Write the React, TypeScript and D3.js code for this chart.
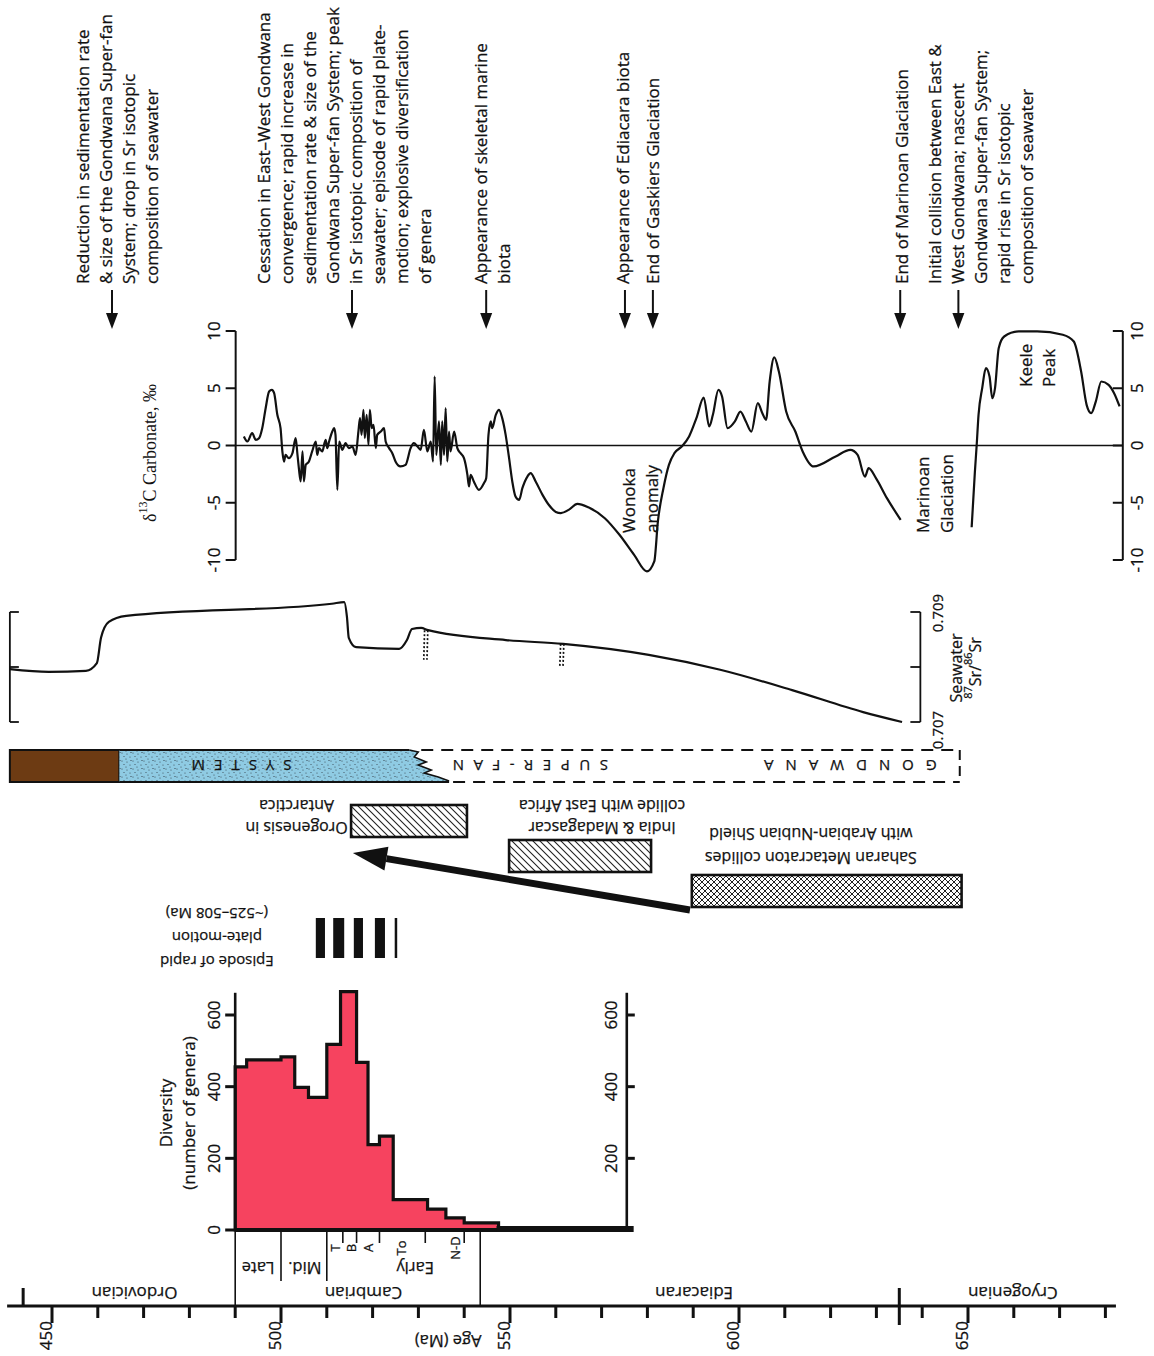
import React, { useEffect, useRef } from 'react';
import * as d3 from 'd3';

const W = 1154;
const H = 1356;
const SANS = "'Open Sans', 'DejaVu Sans', sans-serif";
const SERIF = "'Liberation Serif', 'DejaVu Serif', serif";
const INK = '#111';

// ---- age axis (Ma) ----
const AGE_RANGE = [440.2, 682.3];
const AGE_TICKS = d3.range(450, 690, 10);
const AGE_LABELS = [450, 500, 550, 600, 650];
const PERIOD_BOUNDS = [443.7, 635];
const PERIOD_NAMES = ['Ordovician', 'Cambrian', 'Ediacaran', 'Cryogenian'];
const PERIOD_MIDS = [468, 518, 590.2, 659.8];

// ---- Cambrian subdivisions ----
const CAMBRIAN_BOUNDS = [490, 543.5];
const EPOCH_BOUNDS = [500, 510];
const EPOCH_NAMES = ['Late', 'Mid.', 'Early'];
const EPOCH_MIDS = [495, 505.2, 529.3];
const STAGE_BOUNDS = [513.5, 516.5, 521.5, 531.5, 540];
const STAGE_NAMES = ['T', 'B', 'A', 'To', 'N-D'];
const STAGE_MIDS = [511.8, 515.2, 519.1, 526.3, 538];

// ---- diversity (number of genera) ----
const DIV_EDGES = [490, 492.5, 500, 503, 506, 510, 513, 516.5, 519, 521.5, 524.5, 532, 536, 540, 547.5];
const DIV_VALUES = [455, 475, 483, 398, 370, 518, 665, 468, 238, 262, 85, 58, 34, 20];
const DIV_TAIL_END = 577;
const DIV_TICKS_LEFT = [0, 200, 400, 600];
const DIV_TICKS_RIGHT = [200, 400, 600];
const DIV_RIGHT_AXIS_AGE = 575.5;

// ---- episode of rapid plate motion ----
const EPISODE_BARS = [[507.6, 509.6], [511.4, 513.8], [515.9, 517.9], [520.5, 522.7]];
const EPISODE_THIN = 525.1;

// ---- tectonic events ----
const TECTONIC_FROM = [515.3, 549.8, 589.7];
const TECTONIC_TO = [540.6, 580.8, 648.6];
const TECTONIC_FILL = ['hatch', 'hatch', 'cross'];
const TECTONIC_LABELS = [
  ['Orogenesis in', 'Antarctica'],
  ['India & Madagascar', 'collide with East Africa'],
  ['Saharan Metacraton collides', 'with Arabian-Nubian Shield'],
];
const TECTONIC_LABEL_AGE = [503.4, 570.1, 615.7];
const BIG_ARROW = [589.3, 515.7];

// ---- Gondwana Super-fan System ----
const FAN_START = 440.8;
const FAN_BROWN_END = 464.7;
const FAN_BLUE_END = [528, 536.7];
const FAN_DASH_END = 648.2;

// ---- seawater 87Sr/86Sr ----
const SR_AGE = [440.8, 449.3, 457.4, 459.8, 460.7, 462.4, 466.2, 511.1, 513.8, 514.4, 514.8, 516.4, 525.8, 527.5, 528.6, 530.6, 532.1, 549.1, 561.6, 580.3, 595.9, 611.6, 627.1, 635.6];
const SR_VAL = [0.70796, 0.70791, 0.70793, 0.70807, 0.70853, 0.70882, 0.70893, 0.70915, 0.70918, 0.70891, 0.70853, 0.70836, 0.70833, 0.70849, 0.70869, 0.70871, 0.70867, 0.70849, 0.70842, 0.70822, 0.70795, 0.70758, 0.70718, 0.70700];
const SR_TICKS = [0.707, 0.708, 0.709];
const SR_BRACKET_R = 639.6;
const SR_DOTTED_AGE = [531.7, 561.4];
const SR_DOTTED_TOP = [0.70867, 0.70842];
const SR_DOTTED_BOTTOM = [0.70813, 0.70802];

// ---- d13C carbonate ----
const C13_AGE_A = [491.9, 492.65, 493.7, 494.5, 495.2, 495.9, 496.65, 497.4, 498.0, 498.5,
  499.2, 499.9, 500.3, 500.65, 501.0, 501.7, 502.5, 503.2, 503.6, 503.9,
  504.3, 504.7, 505.0, 505.4, 506.1, 506.8, 507.6, 507.9, 508.3, 509.0,
  509.75, 510.1, 510.5, 511.2, 511.6, 511.9, 512.3, 512.7, 513.4, 514.1,
  514.8, 515.6, 516.3, 516.9, 517.25, 517.6, 518.0, 518.3, 518.7, 519.1,
  519.4, 519.8, 520.2, 520.7, 521.0, 521.8, 522.5, 522.85, 523.6, 524.3,
  525.0, 526.1, 527.2, 528.3, 529.0, 529.8, 530.5, 531.2, 531.95, 532.7,
  533.2, 533.55, 533.9, 534.5, 534.9, 535.2, 535.6, 535.95, 536.3, 536.7,
  537.0, 537.8, 538.5, 539.2, 539.95, 540.7, 541.05, 541.4, 542.1, 543.2,
  544.3, 544.8, 545.3, 545.8, 546.1, 546.9, 547.6, 548.3, 549.05, 549.8,
  550.5, 551.2, 552.0, 552.7, 553.8, 554.5, 555.6, 557.1, 558.5, 560.0,
  561.1, 562.9, 564.7, 567.1, 570.7, 573.9, 577.1, 579.9, 581.5, 582.3,
  583.5, 584.7, 585.9, 587.5, 589.1, 590.7, 592.3, 593.5, 594.3, 595.5,
  596.3, 597.5, 599.1, 600.3, 601.5, 602.7, 604.1, 605.1, 605.9, 606.7,
  607.7, 608.7, 610.3, 612.3, 613.9, 616.3, 621.1, 624.3, 625.9, 627.5,
  628.3, 629.9, 632.3, 635.3];
const C13_VAL_A = [0.79, 0.35, 1.08, 0.49, 0.64, 1.51, 3.26, 4.72, 4.86, 4.57,
  2.68, 1.51, -0.52, -1.40, -0.82, -1.11, -0.67, 0.64, -0.82, -1.98,
  -3.14, -0.52, -3.14, -1.69, -1.40, -0.52, 0.35, -0.82, -0.23, -0.52,
  0.49, -0.23, 0.35, 1.22, 1.51, 0.93, -3.87, 0.35, -0.38, 0.20,
  -0.23, -0.09, -0.82, 1.22, 2.39, 0.93, 3.12, 0.64, 2.68, 0.06,
  3.12, 1.51, 1.80, -0.23, 0.93, 1.22, 1.51, 0.35, -0.23, -0.67,
  -1.40, -1.83, -1.69, -0.23, 0.20, -0.09, -0.38, 1.37, -0.52, 0.35,
  -1.40, 6.03, -0.82, 2.10, -1.69, 2.10, -0.82, 3.26, -1.40, 1.22,
  -0.52, 1.22, -0.23, -0.67, -1.11, -2.56, -3.58, -2.56, -3.14, -3.87,
  -3.29, -2.85, 0.93, 2.10, 1.51, 2.68, 3.12, 2.39, 0.93, -1.11,
  -3.14, -4.45, -4.75, -3.73, -2.71, -2.42, -3.14, -4.31, -5.2, -5.8,
  -5.9, -5.6, -5.1, -5.4, -6.35, -7.80, -9.55, -11.0, -10.13, -6.61,
  -3.73, -1.69, -0.67, -0.09, 0.79, 2.39, 4.19, 1.66, 2.68, 4.86,
  4.28, 1.51, 2.10, 2.96, 2.10, 1.22, 3.70, 2.82, 2.24, 5.59,
  7.69, 6.46, 2.97, 1.22, -0.52, -1.83, -0.96, -0.38, -0.82, -2.71,
  -1.98, -2.85, -4.60, -6.49];
const C13_AGE_B = [650.8, 651.5, 651.9, 652.3, 653.1, 653.9, 654.7, 655.3, 655.9, 656.7, 657.9, 661.1, 665.1, 670.7, 673.1, 674.7, 675.9, 676.9, 677.9, 679.1, 680.7, 681.9, 683.1];
const C13_VAL_B = [-7.13, -2.33, 0.06, 2.68, 5.01, 6.75, 6.03, 4.13, 5.01, 8.50, 9.52, 9.96, 9.96, 9.67, 9.08, 6.46, 3.55, 2.82, 3.84, 5.59, 5.30, 4.57, 3.41];
const C13_TICKS = [-10, -5, 0, 5, 10];
const C13_AXIS_AGES = [490.1, 683.8];

// ---- events at top ----
const EVENT_AGES = [463.1, 515.5, 544.8, 575.1, 581.2, 635.2, 647.9];
const EVENT_TEXT = [
  ['Reduction in sedimentation rate', '& size of the Gondwana Super-fan', 'System; drop in Sr isotopic', 'composition of seawater'],
  ['Cessation in East\u2013West Gondwana', 'convergence; rapid increase in', 'sedimentation rate & size of the', 'Gondwana Super-fan System; peak', 'in Sr isotopic composition of', 'seawater; episode of rapid plate-', 'motion; explosive diversification', 'of genera'],
  ['Appearance of skeletal marine', 'biota'],
  ['Appearance of Ediacara biota'],
  ['End of Gaskiers Glaciation'],
  ['End of Marinoan Glaciation'],
  ['Initial collision between East &', 'West Gondwana; nascent', 'Gondwana Super-fan System;', 'rapid rise in Sr isotopic', 'composition of seawater'],
];
const EVENT_ANCHOR = [1, 4, 0, 0, 0, 0, 1];
const EVENT_DX = [-6, 4, -6, -2, 0, 1, -1];

export default function App() {
  const svgRef = useRef<SVGSVGElement | null>(null);

  useEffect(() => {
    const svg = d3.select(svgRef.current);
    svg.selectAll('*').remove();

    const x = d3.scaleLinear().domain([450, 650]).range([52, 968]);
    const yDiv = d3.scaleLinear().domain([0, 600]).range([1230, 1015]);
    const yC = d3.scaleLinear().domain([-10, 10]).range([560, 331]);
    const ySr = d3.scaleLinear().domain([0.707, 0.709]).range([722, 612]);

    // all labels: rotated text centred on its own line
    const drawText = (g: any, str: string, tx: number, ty: number, rot: number, size: number, anchor = 'middle', family = SANS) =>
      g.append('text')
        .attr('transform', `translate(${tx},${ty}) rotate(${rot})`)
        .attr('text-anchor', anchor)
        .attr('dominant-baseline', 'central')
        .style('font-family', family)
        .style('font-size', `${size}px`)
        .attr('fill', INK)
        .attr('stroke', INK)
        .attr('stroke-width', 0.25)
        .text(str);

    const seg = (x1: number, y1: number, x2: number, y2: number, w = 2, extra?: (s: any) => void) => {
      const l = svg.append('line')
        .attr('x1', x1).attr('y1', y1).attr('x2', x2).attr('y2', y2)
        .attr('stroke', INK).attr('stroke-width', w);
      if (extra) extra(l);
      return l;
    };

    // patterns
    const defs = svg.append('defs');
    const hatch = defs.append('pattern').attr('id', 'hatch')
      .attr('patternUnits', 'userSpaceOnUse').attr('width', 7).attr('height', 7);
    hatch.append('path').attr('d', 'M-1,-1 L8,8 M-1,6 L1,8 M6,-1 L8,1')
      .attr('stroke', '#222').attr('stroke-width', 1.1);
    const cross = defs.append('pattern').attr('id', 'cross')
      .attr('patternUnits', 'userSpaceOnUse').attr('width', 6).attr('height', 6);
    cross.append('rect').attr('width', 6).attr('height', 6).attr('fill', '#fff');
    cross.append('path').attr('d', 'M-1,-1 L7,7 M-1,5 L1,7 M5,-1 L7,1 M-1,7 L7,-1 M-1,1 L1,-1 M5,7 L7,5')
      .attr('stroke', '#222').attr('stroke-width', 1);
    const stip = defs.append('pattern').attr('id', 'stip')
      .attr('patternUnits', 'userSpaceOnUse').attr('width', 11).attr('height', 8);
    [[1, 1], [6, 2], [3, 4.5], [9, 5], [5, 7], [10, 0.5]].forEach(([cx, cy]) =>
      stip.append('circle').attr('cx', cx).attr('cy', cy).attr('r', 0.6).attr('fill', '#3a4a55'));

    // ---------- age axis ----------
    const axisY = 1306;
    seg(x(AGE_RANGE[0]), axisY, x(AGE_RANGE[1]), axisY, 3.2);
    AGE_TICKS.forEach(t => {
      const major = AGE_LABELS.includes(t);
      seg(x(t), axisY, x(t), axisY + (major ? 17 : 12), 3);
    });
    AGE_LABELS.forEach(t => drawText(svg, String(t), x(t) - 7, axisY + 15, -90, 17, 'end'));
    seg(x(PERIOD_BOUNDS[0]), axisY - 18, x(PERIOD_BOUNDS[0]), axisY, 3);
    seg(x(PERIOD_BOUNDS[1]), axisY - 18, x(PERIOD_BOUNDS[1]), axisY + 19, 3);
    PERIOD_NAMES.forEach((n, i) => drawText(svg, n, x(PERIOD_MIDS[i]), 1293, 180, 17));
    drawText(svg, 'Age (Ma)', x(536.5), 1341, 180, 16.5);

    // Cambrian subdivision box
    const baseY = yDiv(0);
    CAMBRIAN_BOUNDS.forEach(a => seg(x(a), baseY, x(a), axisY, 1.6));
    EPOCH_BOUNDS.forEach(a => seg(x(a), baseY, x(a), 1281, 1.6));
    STAGE_BOUNDS.forEach(a => seg(x(a), baseY, x(a), 1243, 1.6));
    EPOCH_NAMES.forEach((n, i) => drawText(svg, n, x(EPOCH_MIDS[i]), 1268, 180, 16.5));
    STAGE_NAMES.forEach((n, i) => drawText(svg, n, x(STAGE_MIDS[i]), 1248, -90, 13));

    // ---------- diversity histogram ----------
    const p = d3.path();
    p.moveTo(x(DIV_EDGES[0]), yDiv(0));
    DIV_VALUES.forEach((v, i) => {
      p.lineTo(x(DIV_EDGES[i]), yDiv(v));
      p.lineTo(x(DIV_EDGES[i + 1]), yDiv(v));
    });
    p.lineTo(x(DIV_EDGES[DIV_EDGES.length - 1]), yDiv(0));
    p.closePath();
    svg.append('path').attr('d', p.toString())
      .attr('fill', '#f6435f').attr('stroke', INK).attr('stroke-width', 3.2)
      .attr('stroke-linejoin', 'miter');
    seg(x(DIV_EDGES[0]), yDiv(0), x(DIV_EDGES[DIV_EDGES.length - 1]), yDiv(0), 4);
    seg(x(DIV_EDGES[DIV_EDGES.length - 1]) - 2, yDiv(0) - 1, x(DIV_TAIL_END), yDiv(0) - 1, 6);

    const lAx = x(DIV_EDGES[0]);
    seg(lAx, yDiv(0), lAx, yDiv(662), 2.6);
    DIV_TICKS_LEFT.forEach(t => {
      seg(lAx - 10, yDiv(t), lAx, yDiv(t), 3);
      drawText(svg, String(t), lAx - 22, yDiv(t), -90, 17);
    });
    const rAx = x(DIV_RIGHT_AXIS_AGE);
    seg(rAx, yDiv(0), rAx, yDiv(662), 2.6);
    DIV_TICKS_RIGHT.forEach(t => {
      seg(rAx, yDiv(t), rAx + 8, yDiv(t), 3);
      drawText(svg, String(t), rAx - 16, yDiv(t), -90, 17);
    });
    drawText(svg, 'Diversity', 165, 1113, -90, 17);
    drawText(svg, '(number of genera)', 188, 1113, -90, 17);

    // ---------- episode of rapid plate motion ----------
    EPISODE_BARS.forEach(([a, b]) =>
      svg.append('rect').attr('x', x(a)).attr('y', 918).attr('width', x(b) - x(a)).attr('height', 40).attr('fill', INK));
    seg(x(EPISODE_THIN), 918, x(EPISODE_THIN), 958, 2.5);
    ['Episode of rapid', 'plate-motion', '(~525\u2013508 Ma)'].forEach((s, i) =>
      drawText(svg, s, x(486), 962 - i * 24, 180, 15));

    // ---------- tectonic boxes ----------
    const rowTop = [805, 840, 875];
    TECTONIC_FROM.forEach((a, i) => {
      svg.append('rect').attr('x', x(a)).attr('y', rowTop[i])
        .attr('width', x(TECTONIC_TO[i]) - x(a)).attr('height', 32)
        .attr('fill', `url(#${TECTONIC_FILL[i]})`).attr('stroke', INK).attr('stroke-width', 2.6);
    });
    const labelY = [[828, 806], [828, 806], [858, 834]];
    TECTONIC_LABELS.forEach((lines, i) =>
      lines.forEach((s, j) => drawText(svg, s, x(TECTONIC_LABEL_AGE[i]), labelY[i][j], 180, 16)));

    // big arrow
    const [tx, ty] = [x(BIG_ARROW[0]), 910];
    const [hx, hy] = [x(BIG_ARROW[1]), 853];
    const ang = Math.atan2(hy - ty, hx - tx);
    const hl = 34, hw = 12;
    const bx = hx - hl * Math.cos(ang), by = hy - hl * Math.sin(ang);
    seg(tx, ty, bx, by, 7);
    svg.append('path')
      .attr('d', `M${hx},${hy} L${bx + hw * Math.sin(ang)},${by - hw * Math.cos(ang)} L${bx - hw * Math.sin(ang)},${by + hw * Math.cos(ang)} Z`)
      .attr('fill', INK);

    // ---------- Gondwana Super-fan System bar ----------
    const fy0 = 750, fy1 = 782;
    svg.append('rect').attr('x', x(FAN_START)).attr('y', fy0)
      .attr('width', x(FAN_BROWN_END) - x(FAN_START)).attr('height', fy1 - fy0)
      .attr('fill', '#6d3b13').attr('stroke', INK).attr('stroke-width', 2);
    const zx0 = x(FAN_BLUE_END[0]), zx1 = x(FAN_BLUE_END[1]);
    const zig: [number, number][] = [[0, 0], [9, 2], [5, 7], [17, 12], [9, 15], [22, 20], [15, 23], [29, 27], [zx1 - zx0, 31]];
    const zigPts = zig.map(([dx, dy]) => [zx0 + dx, fy0 + dy] as [number, number]);
    const bluePts: [number, number][] = [[x(FAN_BROWN_END), fy0], ...zigPts, [zx1, fy1], [x(FAN_BROWN_END), fy1]];
    const blueD = 'M' + bluePts.map(q => q.join(',')).join('L') + 'Z';
    svg.append('path').attr('d', blueD).attr('fill', '#8fcbe3');
    svg.append('path').attr('d', blueD).attr('fill', 'url(#stip)');
    svg.append('path').attr('d', 'M' + zigPts.map(q => q.join(',')).join('L'))
      .attr('fill', 'none').attr('stroke', INK).attr('stroke-width', 1.6);
    seg(x(FAN_BROWN_END), fy0, zx0, fy0, 2);
    seg(x(FAN_BROWN_END), fy1, zx1, fy1, 2);
    const dash = (l: any) => l.attr('stroke-dasharray', '12,8');
    seg(zx0 + 12, fy0, x(FAN_DASH_END), fy0, 2, dash);
    seg(zx1 + 4, fy1, x(FAN_DASH_END), fy1, 2, dash);
    seg(x(FAN_DASH_END), fy0, x(FAN_DASH_END), fy1, 2, (l: any) => l.attr('stroke-dasharray', '10,6'));
    const spaced = (s: string, a: number, sp: number) =>
      drawText(svg, s, x(a), 766, 180, 15).attr('letter-spacing', sp);
    spaced('SYSTEM', 490.4, 9);
    spaced('SUPER-FAN', 553.4, 9.5);
    spaced('GONDWANA', 623, 12);

    // ---------- Sr curve ----------
    const srL = x(FAN_START), srR = x(SR_BRACKET_R);
    seg(srL, ySr(0.709), srL, ySr(0.707), 1.8);
    seg(srR, ySr(0.709), srR, ySr(0.707), 1.8);
    SR_TICKS.forEach(t => {
      seg(srL, ySr(t), srL + 9, ySr(t), 1.8);
      seg(srR - 10, ySr(t), srR, ySr(t), 1.8);
    });
    drawText(svg, '0.709', 937, ySr(0.709) + 1, -90, 15);
    drawText(svg, '0.707', 937, ySr(0.707) + 8, -90, 15);
    drawText(svg, 'Seawater', 956, 668, -90, 16);
    const srLab = svg.append('text')
      .attr('transform', `translate(975,668) rotate(-90)`)
      .attr('text-anchor', 'middle').attr('dominant-baseline', 'central')
      .style('font-family', SANS).style('font-size', '16px').attr('fill', INK)
      .attr('stroke', INK).attr('stroke-width', 0.25);
    srLab.append('tspan').attr('baseline-shift', 'super').style('font-size', '11px').text('87');
    srLab.append('tspan').text('Sr/');
    srLab.append('tspan').attr('baseline-shift', 'super').style('font-size', '11px').text('86');
    srLab.append('tspan').text('Sr');

    const srLine = d3.line<number>()
      .x((_, i) => x(SR_AGE[i]))
      .y(v => ySr(v))
      .curve(d3.curveMonotoneX);
    svg.append('path').attr('d', srLine(SR_VAL))
      .attr('fill', 'none').attr('stroke', INK).attr('stroke-width', 2.2);
    SR_DOTTED_AGE.forEach((a, i) => {
      [-1.6, 1.6].forEach(off =>
        seg(x(a) + off, ySr(SR_DOTTED_TOP[i]), x(a) + off - 0.8, ySr(SR_DOTTED_BOTTOM[i]), 1.7,
          (l: any) => l.attr('stroke-dasharray', '2,2')));
    });

    // ---------- d13C ----------
    const cL = x(C13_AXIS_AGES[0]), cR = x(C13_AXIS_AGES[1]);
    seg(cL, yC(10), cL, yC(-10), 2);
    seg(cR, yC(10), cR, yC(-10), 2);
    C13_TICKS.forEach(t => {
      seg(cL - 10, yC(t), cL, yC(t), 2);
      seg(cR - 10, yC(t), cR, yC(t), 2);
      drawText(svg, String(t), cL - 22, yC(t), -90, 17);
      drawText(svg, String(t), cR + 14, yC(t), -90, 17);
    });
    seg(cL, yC(0), cR, yC(0), 1.6);
    const cLab = svg.append('text')
      .attr('transform', `translate(150,453) rotate(-90)`)
      .attr('text-anchor', 'middle').attr('dominant-baseline', 'central')
      .style('font-family', SERIF).style('font-size', '18px').attr('fill', INK);
    cLab.append('tspan').text('\u03b4');
    cLab.append('tspan').attr('baseline-shift', 'super').style('font-size', '12px').text('13');
    cLab.append('tspan').text('C Carbonate, \u2030');

    const cLine = (ages: number[]) => d3.line<number>()
      .x((_, i) => x(ages[i]))
      .y(v => yC(v))
      .curve(d3.curveMonotoneX);
    svg.append('path').attr('d', cLine(C13_AGE_A)(C13_VAL_A))
      .attr('fill', 'none').attr('stroke', INK).attr('stroke-width', 2.2).attr('stroke-linejoin', 'round');
    svg.append('path').attr('d', cLine(C13_AGE_B)(C13_VAL_B))
      .attr('fill', 'none').attr('stroke', INK).attr('stroke-width', 2.2).attr('stroke-linejoin', 'round');

    drawText(svg, 'Wonoka', 628, 533, -90, 17, 'start');
    drawText(svg, 'anomaly', 651, 533, -90, 17, 'start');
    drawText(svg, 'Marinoan', 922, 533, -90, 17, 'start');
    drawText(svg, 'Glaciation', 946, 533, -90, 17, 'start');
    drawText(svg, 'Keele', 1025, 387, -90, 17, 'start');
    drawText(svg, 'Peak', 1048, 387, -90, 17, 'start');

    // ---------- events with arrows ----------
    EVENT_TEXT.forEach((lines, k) => {
      const ax = x(EVENT_AGES[k]);
      lines.forEach((s, i) =>
        drawText(svg, s, ax + (i - EVENT_ANCHOR[k]) * 23 + EVENT_DX[k], 284, -90, 17, 'start'));
      seg(ax, 290, ax, 316, 2);
      svg.append('path').attr('d', `M${ax - 6},${313} L${ax + 6},${313} L${ax},${329} Z`).attr('fill', INK);
    });
  }, []);

  return (
    <svg ref={svgRef} width={W} height={H}
      style={{ position: 'absolute', left: 0, top: 0, background: '#fff' }} />
  );
}
